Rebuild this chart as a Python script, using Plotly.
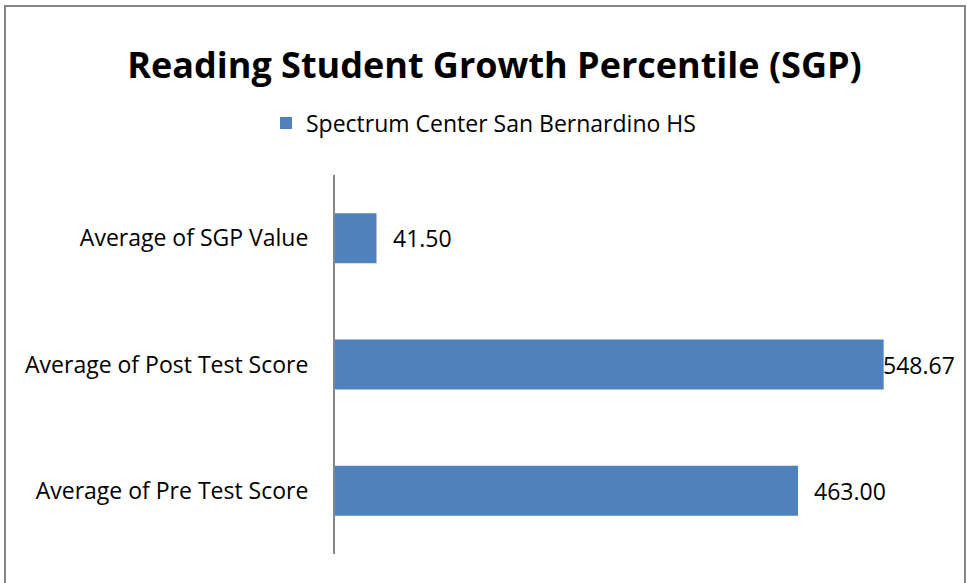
import plotly.graph_objects as go

categories = ["Average of Pre Test Score", "Average of Post Test Score", "Average of SGP Value"]
values = [463.00, 548.67, 41.50]
series_name = "Spectrum Center San Bernardino HS"
title_text = "Reading Student Growth Percentile (SGP)"

W, H = 967, 583
L, R, T, B = 335, 32, 175, 29
pw = W - L - R
ph = H - T - B

FONT = "Open Sans"
BAR = "#4F81BD"
FS = 23

fig = go.Figure()
fig.add_trace(go.Bar(
    y=categories, x=values, orientation="h", name=series_name,
    marker=dict(color=BAR, line=dict(width=0)),
    showlegend=True,
))

# data labels
for c, v in zip(categories, values):
    shift = -3 if v > 540 else 14
    fig.add_annotation(x=v, y=c, text=f"{v:.2f}", showarrow=False,
                       xanchor="left", yanchor="middle", xshift=shift,
                       font=dict(family=FONT, size=FS, color="#000000"))

# chart border
fig.add_shape(type="rect", xref="paper", yref="paper",
              x0=(5 - L) / pw, x1=(965 - L) / pw,
              y0=(H - B - 595) / ph, y1=1 + (T - 6) / ph,
              line=dict(color="#868686", width=2), fillcolor="rgba(0,0,0,0)", layer="below")

fig.update_layout(
    width=W, height=H,
    margin=dict(l=L, r=R, t=T, b=B),
    paper_bgcolor="white", plot_bgcolor="white",
    bargap=0.604,
    title=dict(text=f"<b>{title_text}</b>", x=494.5 / W, xanchor="center",
               y=1 - 65 / H, yanchor="middle", yref="container",
               font=dict(family=FONT, size=36, color="#000000")),
    legend=dict(orientation="h", x=(266 - L) / pw, xanchor="left",
                y=1 + (T - 123) / ph, yanchor="middle",
                font=dict(family=FONT, size=FS, color="#000000"),
                bgcolor="rgba(0,0,0,0)"),
    xaxis=dict(range=[0, pw], visible=False, showgrid=False, zeroline=False, fixedrange=True),
    yaxis=dict(showline=True, linecolor="#868686", linewidth=2, showgrid=False,
               ticks="", ticklabelstandoff=20,
               tickfont=dict(family=FONT, size=FS, color="#000000")),
    font=dict(family=FONT),
)

fig.write_html("out.html", config={"displayModeBar": False},
               post_script="document.body.style.margin='0';document.body.style.overflow='hidden';")
